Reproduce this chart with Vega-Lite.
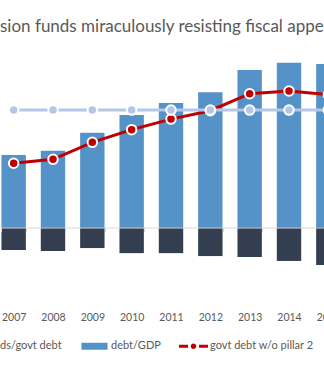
{
  "$schema": "https://vega.github.io/schema/vega-lite/v6.json",
  "width": 354,
  "height": 254,
  "autosize": {"type": "none"},
  "padding": {"left": -6, "top": 51.5, "right": -24, "bottom": 60.5},
  "background": "white",
  "title": {
    "text": "sion funds miraculously resisting fiscal appe",
    "anchor": "start",
    "frame": "group",
    "dx": 6,
    "offset": 3,
    "baseline": "alphabetic",
    "font": "Lato",
    "fontSize": 17,
    "fontWeight": "normal",
    "color": "#595959"
  },
  "config": {"view": {"stroke": null}},
  "data": {
    "values": [
      {"year": "2007", "series": "debt/GDP", "value": 37.0},
      {"year": "2008", "series": "debt/GDP", "value": 39.2},
      {"year": "2009", "series": "debt/GDP", "value": 48.4},
      {"year": "2010", "series": "debt/GDP", "value": 57.5},
      {"year": "2011", "series": "debt/GDP", "value": 63.6},
      {"year": "2012", "series": "debt/GDP", "value": 69.2},
      {"year": "2013", "series": "debt/GDP", "value": 80.5},
      {"year": "2014", "series": "debt/GDP", "value": 84.2},
      {"year": "2015", "series": "debt/GDP", "value": 83.6},
      {"year": "2007", "series": "ds/govt debt", "value": -11.6},
      {"year": "2008", "series": "ds/govt debt", "value": -12.1},
      {"year": "2009", "series": "ds/govt debt", "value": -10.6},
      {"year": "2010", "series": "ds/govt debt", "value": -13.2},
      {"year": "2011", "series": "ds/govt debt", "value": -13.2},
      {"year": "2012", "series": "ds/govt debt", "value": -14.7},
      {"year": "2013", "series": "ds/govt debt", "value": -15.2},
      {"year": "2014", "series": "ds/govt debt", "value": -17.2},
      {"year": "2015", "series": "ds/govt debt", "value": -19.3},
      {"year": "2007", "series": "govt debt w/o pillar 2", "value": 32.8},
      {"year": "2008", "series": "govt debt w/o pillar 2", "value": 34.8},
      {"year": "2009", "series": "govt debt w/o pillar 2", "value": 43.5},
      {"year": "2010", "series": "govt debt w/o pillar 2", "value": 50.0},
      {"year": "2011", "series": "govt debt w/o pillar 2", "value": 55.4},
      {"year": "2012", "series": "govt debt w/o pillar 2", "value": 59.7},
      {"year": "2013", "series": "govt debt w/o pillar 2", "value": 68.4},
      {"year": "2014", "series": "govt debt w/o pillar 2", "value": 69.8},
      {"year": "2015", "series": "govt debt w/o pillar 2", "value": 67.9},
      {"year": "2007", "series": "ref60", "value": 60},
      {"year": "2008", "series": "ref60", "value": 60},
      {"year": "2009", "series": "ref60", "value": 60},
      {"year": "2010", "series": "ref60", "value": 60},
      {"year": "2011", "series": "ref60", "value": 60},
      {"year": "2012", "series": "ref60", "value": 60},
      {"year": "2013", "series": "ref60", "value": 60},
      {"year": "2014", "series": "ref60", "value": 60},
      {"year": "2015", "series": "ref60", "value": 60}
    ]
  },
  "encoding": {
    "x": {
      "field": "year",
      "type": "ordinal",
      "scale": {"type": "band", "paddingInner": 0.38, "paddingOuter": 0.19},
      "axis": {
        "title": null,
        "orient": "bottom",
        "offset": -78,
        "zindex": 1,
        "domainColor": "#d9d9d9",
        "domainWidth": 1,
        "tickBand": "extent",
        "tickColor": "#d9d9d9",
        "tickSize": 4,
        "tickWidth": 1,
        "labelPadding": 81,
        "labelFont": "Lato",
        "labelFontSize": 10.5,
        "labelColor": "#595959",
        "labelAngle": 0,
        "encode": {"ticks": {"update": {"y": {"value": -4}, "y2": {"value": 4}}}}
      }
    },
    "y": {
      "field": "value",
      "type": "quantitative",
      "scale": {"domain": [-40, 90], "nice": false, "zero": false},
      "axis": null
    }
  },
  "layer": [
    {
      "transform": [{"filter": "datum.series === 'debt/GDP' || datum.series === 'ds/govt debt'"}],
      "mark": {"type": "bar"},
      "encoding": {
        "y": {"field": "value", "type": "quantitative", "stack": null},
        "color": {
          "field": "series",
          "type": "nominal",
          "scale": {
            "domain": ["ds/govt debt", "debt/GDP", "govt debt w/o pillar 2"],
            "range": ["#333f50", "#5592c8", "#c00000"]
          },
          "legend": {
            "orient": "none",
            "legendX": -25,
            "legendY": 280,
            "direction": "horizontal",
            "columns": 3,
            "title": null,
            "symbolSize": 841,
            "labelOffset": 2,
            "columnPadding": 18,
            "rowPadding": 0,
            "padding": 0,
            "labelFont": "Lato",
            "labelFontSize": 11,
            "labelColor": "#595959",
            "encode": {
              "symbols": {
                "update": {
                  "shape": {"signal": "datum.value === 'govt debt w/o pillar 2' ? 'M-1,-0.1H-0.38V0.1H-1Z M0.38,-0.1H1V0.1H0.38Z M-0.19,0A0.19,0.19 0 1,1 0.19,0A0.19,0.19 0 1,1 -0.19,0Z' : 'M-0.9,-0.24H0.9V0.24H-0.9Z'"},
                  "fill": {"scale": "color", "field": "value"},
                  "strokeWidth": {"value": 0},
                  "opacity": {"value": 1},
                  "fillOpacity": {"value": 1}
                }
              }
            }
          }
        }
      }
    },
    {
      "transform": [{"filter": "datum.series === 'govt debt w/o pillar 2'"}],
      "mark": {"type": "line", "strokeWidth": 3},
      "encoding": {
        "color": {"field": "series", "type": "nominal"}
      }
    },
    {
      "transform": [{"filter": "datum.series === 'govt debt w/o pillar 2'"}],
      "mark": {"type": "point", "filled": true, "fill": "#c00000", "stroke": "white", "strokeWidth": 2, "size": 90, "opacity": 1}
    },
    {
      "transform": [{"filter": "datum.series === 'ref60'"}],
      "mark": {"type": "line", "strokeWidth": 3, "color": "#b4c7e7"}
    },
    {
      "transform": [{"filter": "datum.series === 'ref60'"}],
      "mark": {"type": "point", "filled": true, "fill": "#b4c7e7", "stroke": "white", "strokeWidth": 2, "size": 90, "opacity": 1}
    }
  ]
}
